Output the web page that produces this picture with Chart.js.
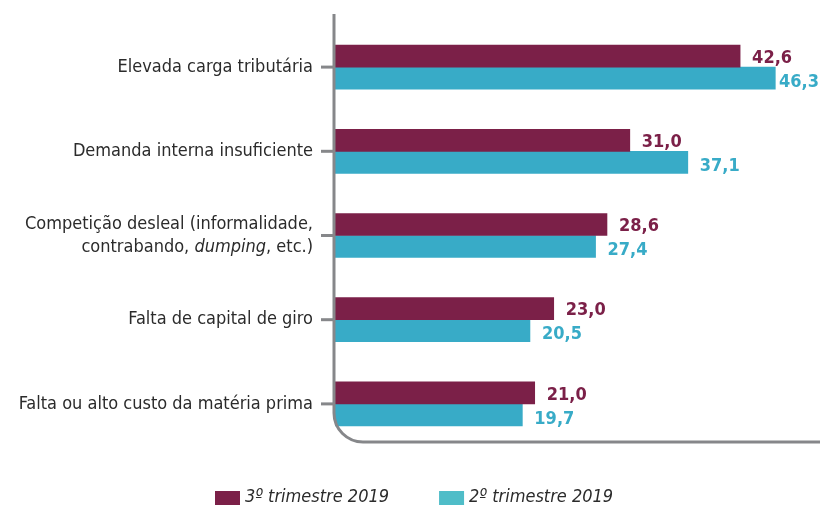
<!DOCTYPE html>
<html>
<head>
<meta charset="utf-8">
<script src="https://cdn.jsdelivr.net/npm/chart.js@4.4.0/dist/chart.umd.min.js"></script>
<style>
  html, body { margin: 0; padding: 0; background: #fff; }
  #wrap { width: 820px; height: 506px; }
</style>
</head>
<body>
<div id="wrap"><canvas id="chart" width="820" height="506"></canvas></div>
<script>
// categories (second one wraps on two lines)
const categories = [
  'Elevada carga tributária',
  'Demanda interna insuficiente',
  ['Competição desleal (informalidade,', 'contrabando, dumping, etc.)'],
  'Falta de capital de giro',
  'Falta ou alto custo da matéria prima'
];
// words shown in italic inside the category labels
const italicWords = ['dumping'];

const seriesNames = ['3º trimestre 2019', '2º trimestre 2019'];
const q3Values = [42.6, 31.0, 28.6, 23.0, 21.0];
const q2Values = [46.3, 37.1, 27.4, 20.5, 19.7];

const FONT = '"Liberation Sans Narrow", "Arial Narrow", "DejaVu Sans Condensed", sans-serif';
const MAROON = '#7b2048';
const TEAL = '#38abc7';
const TEAL_LEGEND = '#4fbdc8';
const AXIS = '#86878a';

function fmt(v) {
  return v.toFixed(1).replace('.', ',');
}

// custom axis: left line + rounded corner + bottom line, tick marks, category labels
const axisPlugin = {
  id: 'roundAxis',
  afterDraw(chart) {
    const ctx = chart.ctx;
    const area = chart.chartArea;
    const yScale = chart.scales.y;
    const x0 = area.left - 1;
    const yTop = area.top - 11;
    const yBot = area.bottom - 4;
    const r = 29;

    ctx.save();
    ctx.strokeStyle = AXIS;
    ctx.lineWidth = 3;
    ctx.beginPath();
    ctx.moveTo(x0, yTop);
    ctx.lineTo(x0, yBot - r);
    ctx.arcTo(x0, yBot, x0 + r, yBot, r);
    ctx.lineTo(chart.width, yBot);
    ctx.stroke();

    // tick marks + labels
    ctx.fillStyle = '#2b2b2b';
    ctx.textBaseline = 'middle';
    categories.forEach((cat, i) => {
      const y = yScale.getPixelForValue(i);
      ctx.beginPath();
      ctx.moveTo(x0 - 13, y);
      ctx.lineTo(x0, y);
      ctx.stroke();

      const lines = Array.isArray(cat) ? cat : [cat];
      const lh = 23;
      lines.forEach((line, j) => {
        const ly = y + (j - (lines.length - 1) / 2) * lh;
        drawMixedLine(ctx, line, x0 - 21, ly);
      });
    });
    ctx.restore();
  }
};

// right-aligned line where some words are italic
function drawMixedLine(ctx, line, rightX, y) {
  const parts = [];
  let rest = line;
  while (rest.length) {
    let hit = -1, word = '';
    italicWords.forEach(w => {
      const k = rest.indexOf(w);
      if (k >= 0 && (hit < 0 || k < hit)) { hit = k; word = w; }
    });
    if (hit < 0) { parts.push({ t: rest, it: false }); break; }
    if (hit > 0) parts.push({ t: rest.slice(0, hit), it: false });
    parts.push({ t: word, it: true });
    rest = rest.slice(hit + word.length);
  }
  const fontFor = it => (it ? 'italic ' : '') + '18px ' + FONT;
  let total = 0;
  parts.forEach(p => { ctx.font = fontFor(p.it); p.w = ctx.measureText(p.t).width; total += p.w; });
  let x = rightX - total;
  ctx.textAlign = 'left';
  parts.forEach(p => { ctx.font = fontFor(p.it); ctx.fillText(p.t, x, y); x += p.w; });
}

// value labels at the end of each bar
const valuePlugin = {
  id: 'values',
  afterDatasetsDraw(chart) {
    const ctx = chart.ctx;
    ctx.save();
    ctx.font = 'bold 18px ' + FONT;
    ctx.textAlign = 'left';
    ctx.textBaseline = 'middle';
    chart.data.datasets.forEach((ds, di) => {
      const meta = chart.getDatasetMeta(di);
      ctx.fillStyle = ds.backgroundColor;
      meta.data.forEach((bar, i) => {
        const txt = fmt(ds.data[i]);
        const w = ctx.measureText(txt).width;
        const x = Math.min(bar.x + 12, chart.width - w - 1);
        ctx.fillText(txt, x, bar.y + (di === 0 ? 2 : 4));
      });
    });
    ctx.restore();
  }
};

// legend drawn at the bottom from the datasets
const legendPlugin = {
  id: 'bottomLegend',
  afterDraw(chart) {
    const ctx = chart.ctx;
    ctx.save();
    ctx.font = 'italic 18px ' + FONT;
    ctx.textBaseline = 'middle';
    ctx.textAlign = 'left';
    const boxW = 25, boxH = 14, gap = 5, spacing = 50;
    const items = chart.data.datasets.map((ds, i) => ({
      label: ds.label,
      color: i === 0 ? MAROON : TEAL_LEGEND,
      w: boxW + gap + ctx.measureText(ds.label).width
    }));
    let x = 215;
    const y = 497;
    items.forEach(it => {
      ctx.fillStyle = it.color;
      ctx.fillRect(x, y - boxH / 2 + 1, boxW, boxH);
      ctx.fillStyle = '#2b2b2b';
      ctx.fillText(it.label, x + boxW + gap, y);
      x += it.w + spacing;
    });
    ctx.restore();
  }
};

new Chart(document.getElementById('chart'), {
  type: 'bar',
  data: {
    labels: categories,
    datasets: [
      { label: seriesNames[0], data: q3Values, backgroundColor: MAROON },
      { label: seriesNames[1], data: q2Values, backgroundColor: TEAL }
    ]
  },
  options: {
    indexAxis: 'y',
    responsive: false,
    animation: false,
    layout: { padding: { left: 335, right: 0, top: 25, bottom: 60 } },
    barThickness: 22,
    plugins: {
      legend: { display: false },
      tooltip: { enabled: false }
    },
    scales: {
      x: { display: false, min: 0, max: 51 },
      y: { display: false }
    }
  },
  plugins: [axisPlugin, valuePlugin, legendPlugin]
});
</script>
</body>
</html>
